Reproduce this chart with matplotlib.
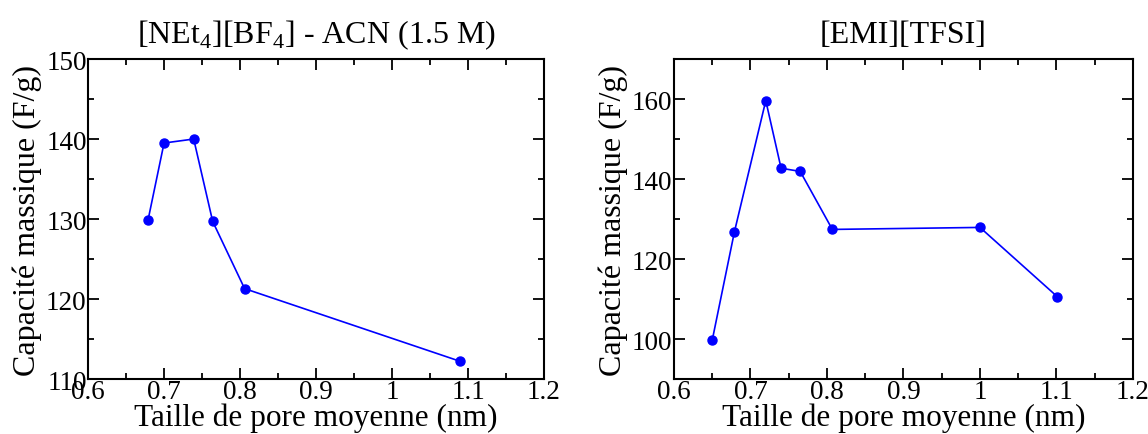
import numpy as np
import matplotlib
matplotlib.use("Agg")
import matplotlib.pyplot as plt
from matplotlib.ticker import MultipleLocator

plt.rcParams["font.family"] = ["Liberation Serif", "DejaVu Serif"]
plt.rcParams["mathtext.fontset"] = "custom"
plt.rcParams["mathtext.rm"] = "Liberation Serif"

# [NEt4][BF4] - ACN
x_acn = [0.679, 0.700, 0.739, 0.764, 0.806, 1.090]
y_acn = [129.9, 139.5, 140.0, 129.7, 121.3, 112.2]

# [EMI][TFSI]
x_emi = [0.650, 0.679, 0.720, 0.740, 0.765, 0.807, 1.000, 1.101]
y_emi = [99.7, 126.8, 159.6, 142.7, 141.9, 127.4, 127.9, 110.6]

blue = "#0000ff"

fig = plt.figure(figsize = (11.48, 4.35), dpi = 100)
ax1 = fig.add_axes([0.0767, 0.1264, 0.3972, 0.7356])
ax2 = fig.add_axes([0.5871, 0.1264, 0.3998, 0.7356])


def style(ax, ylim, ymaj, ymin):

    ax.set_xlim(0.6, 1.2)
    ax.set_ylim(*ylim)
    ax.xaxis.set_major_locator(MultipleLocator(0.1))
    ax.xaxis.set_minor_locator(MultipleLocator(0.05))
    ax.yaxis.set_major_locator(MultipleLocator(ymaj))
    ax.yaxis.set_minor_locator(MultipleLocator(ymin))
    ax.xaxis.set_major_formatter(lambda v, p: ("%g" % round(v, 2)))
    ax.tick_params(which = "both", direction = "in", top = True, right = True, labelsize = 19.5, width = 1.3)
    ax.tick_params(which = "major", length = 8, pad = 1)
    ax.tick_params(axis = "x", which = "major", pad = 0)
    ax.tick_params(which = "minor", length = 4)
    for s in ax.spines.values():
        s.set_linewidth(1.5)
    ax.set_xlabel("Taille de pore moyenne (nm)", fontsize = 22.5, labelpad = -1)
    ax.set_ylabel("Capacité massique (F/g)", fontsize = 23, labelpad = 3)


ax1.plot(x_acn, y_acn, color = blue, linewidth = 1.2, marker = "o", markersize = 6.5)
style(ax1, (110, 150), 10, 5)
ax1.set_title("[NEt$_4$][BF$_4$] - ACN (1.5 M)", fontsize = 23, pad = 12)

ax2.plot(x_emi, y_emi, color = blue, linewidth = 1.2, marker = "o", markersize = 6.5)
style(ax2, (90, 170), 20, 10)
ax2.set_title("[EMI][TFSI]", fontsize = 23, pad = 12)

fig.savefig("out.png", dpi = 100)
